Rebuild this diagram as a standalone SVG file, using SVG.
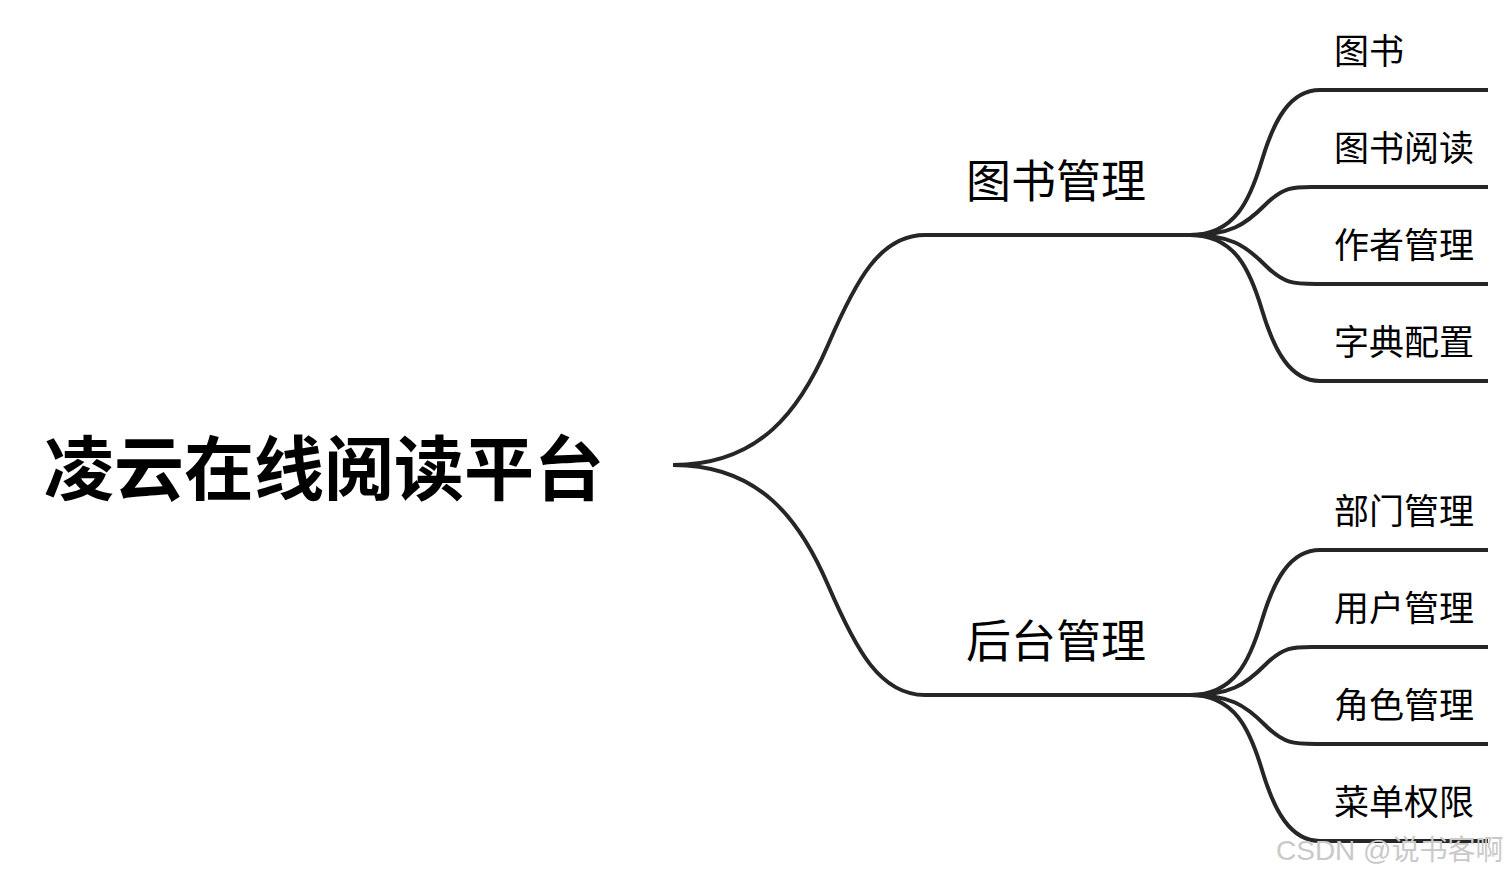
<svg xmlns="http://www.w3.org/2000/svg" width="1509" height="875" viewBox="0 0 1509 875">
<style>
.c{fill:none;stroke:#262626;stroke-width:4;stroke-linecap:butt}
.t{font-family:"Noto Sans CJK SC","Noto Sans",sans-serif;fill:#000}
.root{font-size:70px;font-weight:700}
.mid{font-size:45px}
.leaf{font-size:35px}
.wm{font-family:"Liberation Sans","Noto Sans CJK SC",sans-serif;font-size:28px;fill:#c9c9c9}
</style>
<rect width="1509" height="875" fill="#fff"/>
<g id="connectors">
<path class="c" d="M673,465 C760,465 800,410 828,345 S880,235 925,235"/>
<path class="c" d="M673,465 C760,465 800,520 828,585 S880,695 925,695"/>
<path class="c" d="M1190,235 C1235,235 1250,200 1262,160 S1290,90 1320,90"/>
<path class="c" d="M1190,235 C1230,235 1245,225 1265,205 S1295,187 1320,187"/>
<path class="c" d="M1190,235 C1230,235 1245,245 1265,265 S1295,284 1320,284"/>
<path class="c" d="M1190,235 C1235,235 1250,270 1262,310 S1290,381 1320,381"/>
<path class="c" d="M1190,695 C1235,695 1250,660 1262,620 S1290,550 1320,550"/>
<path class="c" d="M1190,695 C1230,695 1245,685 1265,665 S1295,647 1320,647"/>
<path class="c" d="M1190,695 C1230,695 1245,705 1265,725 S1295,744 1320,744"/>
<path class="c" d="M1190,695 C1235,695 1250,730 1262,770 S1290,841 1320,841"/>
</g>
<g id="root"><text class="t root" x="44" y="495">凌云在线阅读平台</text></g>
<g id="n-book"><path class="c" d="M924,235 H1191"/><text class="t mid" x="966" y="198">图书管理</text></g>
<g id="n-admin"><path class="c" d="M924,695 H1191"/><text class="t mid" x="966" y="658">后台管理</text></g>
<g id="l1"><path class="c" d="M1319,90 H1488"/><text class="t leaf" x="1334" y="64">图书</text></g>
<g id="l2"><path class="c" d="M1319,187 H1488"/><text class="t leaf" x="1334" y="161">图书阅读</text></g>
<g id="l3"><path class="c" d="M1319,284 H1488"/><text class="t leaf" x="1334" y="258">作者管理</text></g>
<g id="l4"><path class="c" d="M1319,381 H1488"/><text class="t leaf" x="1334" y="355">字典配置</text></g>
<g id="l5"><path class="c" d="M1319,550 H1488"/><text class="t leaf" x="1334" y="524">部门管理</text></g>
<g id="l6"><path class="c" d="M1319,647 H1488"/><text class="t leaf" x="1334" y="621">用户管理</text></g>
<g id="l7"><path class="c" d="M1319,744 H1488"/><text class="t leaf" x="1334" y="718">角色管理</text></g>
<g id="l8"><path class="c" d="M1319,841 H1488"/><text class="t leaf" x="1334" y="815">菜单权限</text></g>
<text class="wm" x="1276" y="860">CSDN @说书客啊</text>
</svg>
